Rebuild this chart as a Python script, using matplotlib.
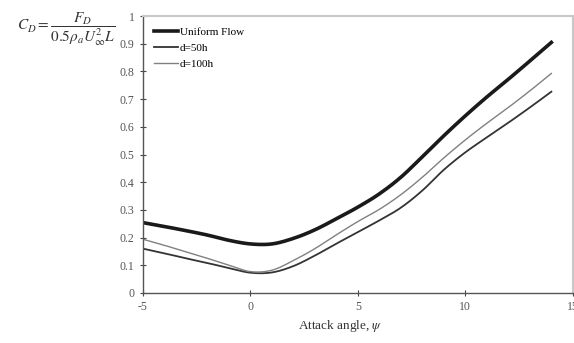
import matplotlib
matplotlib.use('Agg')
import matplotlib.pyplot as plt
import numpy as np

# attack angle (deg) and drag coefficients
angle = [-5, -4, -3, -2, -1, 0, 1, 2, 3, 4, 5, 6, 7, 8, 9, 10, 11, 12, 13, 14]
cd_uniform = [0.254, 0.24, 0.225, 0.209, 0.19, 0.177, 0.177, 0.197, 0.228, 0.268,
              0.31, 0.358, 0.418, 0.492, 0.568, 0.64, 0.708, 0.772, 0.838, 0.905]
cd_d50 = [0.16, 0.143, 0.125, 0.108, 0.09, 0.073, 0.074, 0.097, 0.135, 0.178,
          0.22, 0.262, 0.308, 0.37, 0.445, 0.508, 0.562, 0.615, 0.67, 0.727]
cd_d100 = [0.194, 0.172, 0.148, 0.125, 0.1, 0.077, 0.082, 0.117, 0.16, 0.21,
           0.258, 0.302, 0.355, 0.418, 0.488, 0.553, 0.613, 0.67, 0.73, 0.793]
labels = ['Uniform Flow', 'd=50h', 'd=100h']


def smooth(x, y, n=12):
    # Catmull-Rom pass so the lines look like the spreadsheet's smoothed series
    x = np.asarray(x, float)
    y = np.asarray(y, float)
    px = np.concatenate([[2 * x[0] - x[1]], x, [2 * x[-1] - x[-2]]])
    py = np.concatenate([[2 * y[0] - y[1]], y, [2 * y[-1] - y[-2]]])
    xs, ys = [], []
    t = np.linspace(0, 1, n, endpoint=False)
    for i in range(1, len(px) - 2):
        for arr, out in ((px, xs), (py, ys)):
            p0, p1, p2, p3 = arr[i - 1:i + 3]
            out.extend(0.5 * (2 * p1 + (-p0 + p2) * t + (2 * p0 - 5 * p1 + 4 * p2 - p3) * t ** 2
                              + (-p0 + 3 * p1 - 3 * p2 + p3) * t ** 3))
    xs.append(x[-1])
    ys.append(y[-1])
    return xs, ys


plt.rcParams['font.family'] = ['Liberation Serif', 'DejaVu Serif']
plt.rcParams['mathtext.fontset'] = 'stix'
plt.rcParams['axes.unicode_minus'] = False

fig = plt.figure(figsize=(5.74, 3.43), dpi=100)
ax = fig.add_axes([0.249, 0.146, 0.749, 0.807])

ax.plot(*smooth(angle, cd_uniform), color='#1a1a1a', lw=2.6, label=labels[0])
ax.plot(*smooth(angle, cd_d50), color='#333333', lw=1.3, label=labels[1])
ax.plot(*smooth(angle, cd_d100), color='#808080', lw=1.0, label=labels[2])

ax.set_xlim(-5, 15)
ax.set_ylim(0, 1)
ax.set_xticks([-5, 0, 5, 10, 15])
ax.set_yticks(np.arange(0, 1.01, 0.1))
ax.set_yticklabels(['0', '0.1', '0.2', '0.3', '0.4', '0.5', '0.6', '0.7', '0.8', '0.9', '1'])
ax.tick_params(direction='inout', length=5, width=0.8, labelsize=8.5,
               colors='#444444', labelcolor='#555555')

for s in ['left', 'bottom']:
    ax.spines[s].set_color('#555555')
    ax.spines[s].set_linewidth(1.0)
for s in ['top', 'right']:
    ax.spines[s].set_color('#c8c8c8')
    ax.spines[s].set_linewidth(1.5)

ax.set_xlabel(r'Attack angle, $\psi$', fontsize=9.5, color='#333333')
ax.xaxis.set_label_coords(0.46, -0.09)

fig.text(0.03, 0.915, r'$C_D = \dfrac{F_D}{0.5\rho_a U_\infty^{2} L}$',
         fontsize=11, color='#333333', ha='left', va='center')

leg = ax.legend(loc='upper left', frameon=False, fontsize=8, handlelength=2.2,
                handletextpad=0.1, labelspacing=0.55, borderaxespad=0.6)

fig.savefig('out.png', dpi=100)
